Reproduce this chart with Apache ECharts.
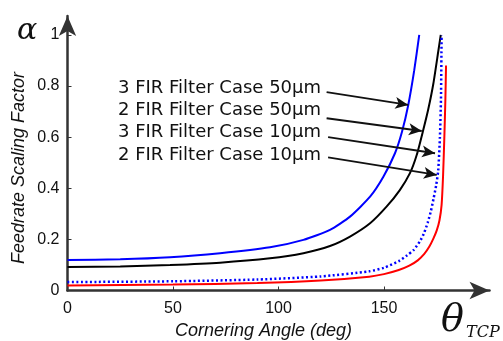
<!DOCTYPE html>
<html>
<head>
<meta charset="utf-8">
<script src="https://cdn.jsdelivr.net/npm/echarts@6/dist/echarts.min.js"></script>
<style>
  html, body { margin: 0; padding: 0; background: #fff; }
  #chart { width: 503px; height: 341px; }
</style>
</head>
<body>
<div id="chart"></div>
<script>
// tick labels
var xTicks = [0, 50, 100, 150];
var yTicks = [0, 0.2, 0.4, 0.6, 0.8, 1];

// curves, [angle deg, alpha]
var fir3_50 = [[0, 0.119], [25, 0.122], [48.6, 0.13], [72.3, 0.146], [96, 0.169], [111.8, 0.198], [124.4, 0.237], [133.9, 0.289], [143.4, 0.367], [149.7, 0.445], [155.2, 0.537], [158.5, 0.62], [161.5, 0.726], [164.3, 0.86], [166.7, 1.0]];
var fir2_50 = [[0, 0.092], [25, 0.094], [48.6, 0.1], [72.3, 0.109], [96, 0.126], [111.8, 0.146], [124.4, 0.174], [133.9, 0.211], [143.4, 0.263], [151.2, 0.328], [157.5, 0.393], [162.3, 0.459], [165.5, 0.53], [168.6, 0.628], [171, 0.71], [173.4, 0.81], [175.8, 0.94], [176.9, 1.0]];
var fir3_10 = [[0, 0.033], [50, 0.036], [90, 0.043], [120, 0.055], [143, 0.075], [150, 0.089], [157, 0.115], [161, 0.138], [164, 0.158], [167, 0.192], [169, 0.225], [170.7, 0.265], [172.2, 0.31], [173.5, 0.36], [174.7, 0.41], [175.7, 0.47], [176.5, 0.6], [177, 0.75], [177.3, 1.0]];
var fir2_10 = [[0, 0.02], [50, 0.023], [90, 0.029], [120, 0.039], [143, 0.054], [150, 0.064], [157, 0.08], [162, 0.097], [166, 0.118], [169, 0.142], [171.5, 0.172], [173.5, 0.205], [175, 0.235], [176.3, 0.275], [177.3, 0.335], [178, 0.45], [178.6, 0.6], [179.1, 0.75], [179.4, 0.88]];

var labels = ['3 FIR Filter Case 50µm', '2 FIR Filter Case 50µm', '3 FIR Filter Case 10µm', '2 FIR Filter Case 10µm'];
// arrow start / end in data units
var arrows = [
    [[122.8, 0.776], [161.5, 0.726]],
    [[122.8, 0.674], [167.9, 0.624]],
    [[123.5, 0.600], [174.2, 0.537]],
    [[123.5, 0.521], [175.0, 0.452]]
];

var chart = echarts.init(document.getElementById('chart'));

var axisCol = '#333';

var option = {
    animation: false,
    backgroundColor: '#fff',
    grid: {left: 67.5, right: 13.5, top: 16, bottom: 50.5},
    xAxis: {
        type: 'value',
        min: 0,
        max: 200,
        splitLine: {show: false},
        axisLine: {
            onZero: false,
            symbol: ['none', 'arrow'],
            symbolSize: [13, 20],
            lineStyle: {color: axisCol, width: 2.5}
        },
        axisTick: {inside: true, length: 4, customValues: xTicks, lineStyle: {color: axisCol}},
        axisLabel: {
            customValues: xTicks,
            color: '#111',
            fontFamily: 'Liberation Sans',
            fontSize: 16,
            margin: 10
        }
    },
    yAxis: {
        type: 'value',
        min: 0,
        max: 1.074,
        splitLine: {show: false},
        axisLine: {
            onZero: false,
            symbol: ['none', 'arrow'],
            symbolSize: [13, 20],
            lineStyle: {color: axisCol, width: 2.5}
        },
        axisTick: {inside: true, length: 4, customValues: yTicks, lineStyle: {color: axisCol}},
        axisLabel: {
            customValues: yTicks,
            color: '#111',
            fontFamily: 'Liberation Sans',
            fontSize: 16,
            margin: 8
        }
    },
    graphic: [
        {
            type: 'text', x: 19, y: 168, rotation: Math.PI / 2,
            style: {
                text: 'Feedrate Scaling Factor', fill: '#111',
                font: 'italic 18px "Liberation Sans"',
                align: 'center', verticalAlign: 'middle'
            }
        },
        {
            type: 'text', left: 175, top: 322,
            style: {
                text: 'Cornering Angle (deg)', fill: '#111',
                font: 'italic 18px "Liberation Sans"'
            }
        },
        {
            type: 'text', left: 17, top: 16,
            style: {text: 'α', fill: '#111', font: 'italic 30px "DejaVu Serif"'}
        },
        {
            type: 'text', left: 441, top: 302,
            style: {text: 'θ', fill: '#111', font: 'italic 38px "DejaVu Serif"'}
        },
        {
            type: 'text', left: 466, top: 325,
            style: {text: 'TCP', fill: '#111', font: 'italic 16px "DejaVu Serif"'}
        }
    ].concat(labels.map(function (t, i) {
        return {
            type: 'text', left: 118, top: 79 + i * 22.3,
            style: {text: t, fill: '#111', font: '18px "DejaVu Sans"'}
        };
    })),
    series: [
        {
            name: labels[0], type: 'line', data: fir3_50, showSymbol: false, smooth: 0.2,
            lineStyle: {color: '#0000ff', width: 2}
        },
        {
            name: labels[1], type: 'line', data: fir2_50, showSymbol: false, smooth: 0.2,
            lineStyle: {color: '#000', width: 2},
            markLine: {
                silent: true,
                symbol: ['none', 'arrow'],
                symbolSize: [9, 13],
                label: {show: false},
                lineStyle: {color: '#111', width: 1.8, type: 'solid'},
                data: arrows.map(function (a) {
                    return [{coord: a[0]}, {coord: a[1]}];
                })
            }
        },
        {
            name: labels[2], type: 'line', data: fir3_10, showSymbol: false, smooth: 0.2,
            lineStyle: {color: '#0000ff', width: 2.5, type: [2, 2.5]}
        },
        {
            name: labels[3], type: 'line', data: fir2_10, showSymbol: false, smooth: 0.2,
            lineStyle: {color: '#ff0000', width: 2}
        }
    ]
};

chart.setOption(option);
</script>
</body>
</html>
